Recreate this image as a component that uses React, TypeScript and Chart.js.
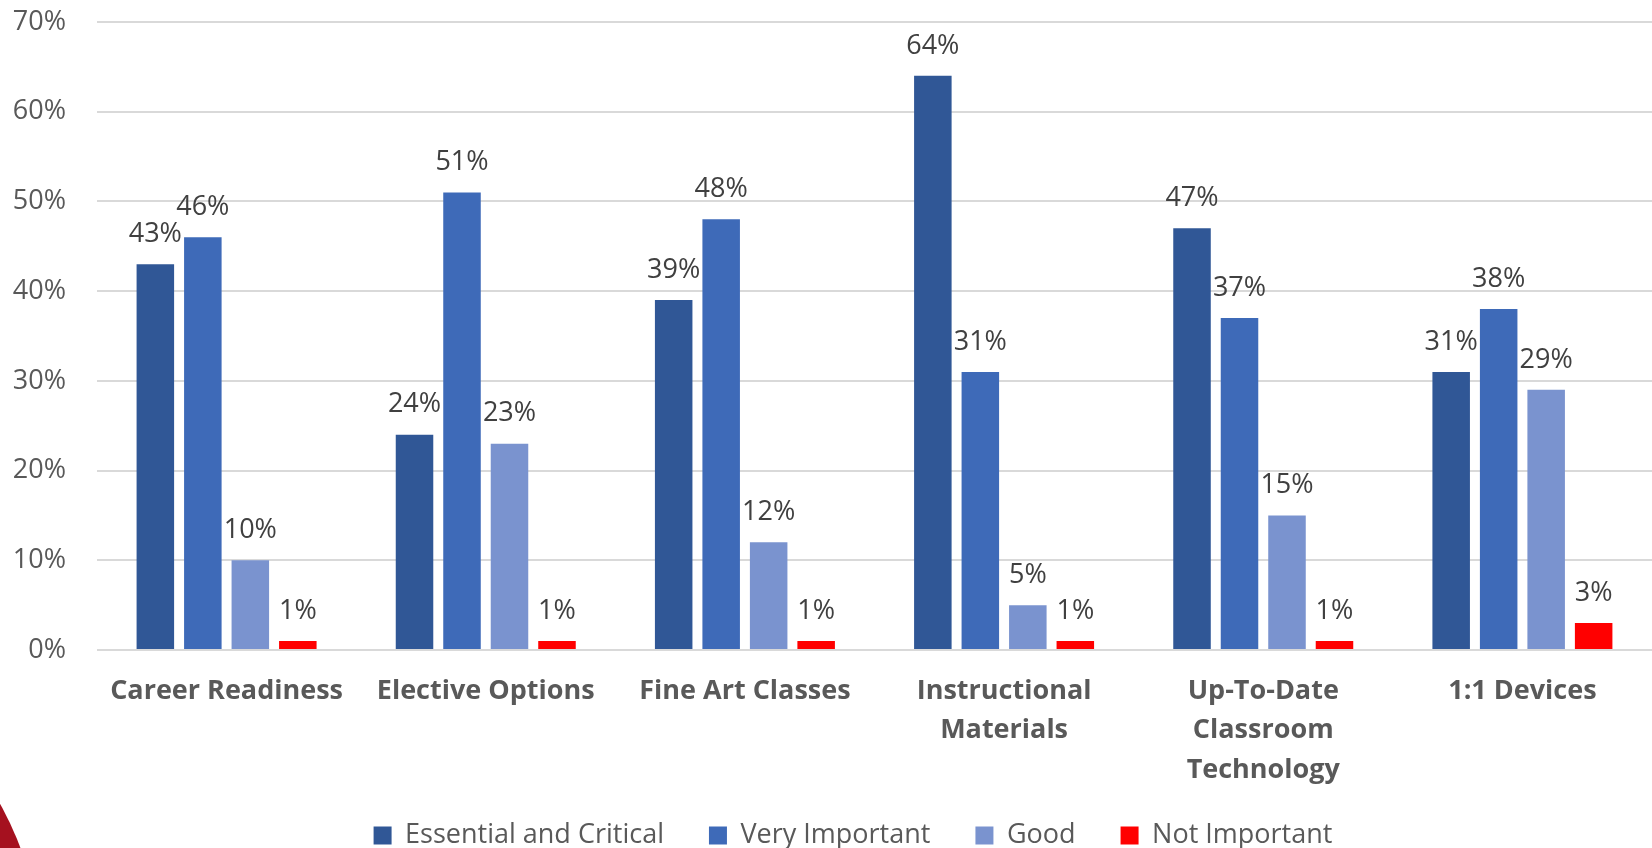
import React, { useEffect, useRef } from "react";
import { Chart, registerables } from "chart.js";

Chart.register(...registerables);

const categories: (string | string[])[] = [
  "Career Readiness",
  "Elective Options",
  "Fine Art Classes",
  ["Instructional", "Materials"],
  ["Up-To-Date", "Classroom", "Technology"],
  "1:1 Devices",
];

const seriesNames = ["Essential and Critical", "Very Important", "Good", "Not Important"];
const essentialCritical = [43, 24, 39, 64, 47, 31];
const veryImportant = [46, 51, 48, 31, 37, 38];
const good = [10, 23, 12, 5, 15, 29];
const notImportant = [1, 1, 1, 1, 1, 3];
const yTicks = [0, 10, 20, 30, 40, 50, 60, 70];

const seriesColors = ["#305796", "#3E6AB8", "#7A93CF", "#FF0000"];

const FONT = "'Open Sans', 'Noto Sans', sans-serif";

// vertical gap between a bar's top and the centre of its value label
const LABEL_GAP = 30;

const valueLabels = {
  id: "valueLabels",
  afterDatasetsDraw(chart: Chart) {
    const ctx = chart.ctx;
    ctx.save();
    ctx.font = `27px ${FONT}`;
    ctx.fillStyle = "#404040";
    ctx.textAlign = "center";
    ctx.textBaseline = "middle";
    chart.data.datasets.forEach((ds, di) => {
      const meta = chart.getDatasetMeta(di);
      meta.data.forEach((el: any, i: number) => {
        const v = ds.data[i] as number;
        ctx.fillText(`${v}%`, el.x, el.y - LABEL_GAP);
      });
    });
    ctx.restore();
  },
};

// places the legend row slightly right of centre, near the bottom edge
const LEGEND_TOP = 777;
const legendShift = {
  id: "legendShift",
  afterLayout(chart: any) {
    const lg = chart.legend;
    if (!lg) return;
    lg.left += 27;
    lg.right += 27;
    lg.top = LEGEND_TOP;
    lg.bottom = chart.height;
  },
};

export default function App() {
  const ref = useRef<HTMLCanvasElement | null>(null);

  useEffect(() => {
    if (!ref.current) return;
    const values = [essentialCritical, veryImportant, good, notImportant];
    const chart = new Chart(ref.current, {
      type: "bar",
      data: {
        labels: categories,
        datasets: seriesNames.map((name, k) => ({
          label: name,
          data: values[k],
          backgroundColor: seriesColors[k],
          borderWidth: 0,
          categoryPercentage: 0.733,
          barPercentage: 0.79,
        })),
      },
      options: {
        animation: false,
        responsive: true,
        maintainAspectRatio: false,
        layout: { padding: { top: 22, right: 0, left: 0, bottom: 0 } },
        plugins: {
          tooltip: { enabled: false },
          legend: {
            position: "bottom",
            maxHeight: 63,
            labels: {
              boxWidth: 18,
              boxHeight: 18,
              padding: 45,
              color: "#595959",
              font: { family: FONT, size: 27 },
            },
          },
        },
        scales: {
          x: {
            grid: { display: false, drawTicks: false },
            border: { display: false },
            afterFit(scale: any) {
              scale.height = 135;
            },
            ticks: {
              color: "#595959",
              font: { family: FONT, size: 27, weight: "bold", lineHeight: 1.45 },
              padding: 22,
              autoSkip: false,
              maxRotation: 0,
              minRotation: 0,
            },
          },
          y: {
            min: 0,
            max: 70,
            afterBuildTicks(scale: any) {
              scale.ticks = yTicks.map((v) => ({ value: v }));
            },
            afterFit(scale: any) {
              scale.width = 97;
              scale.paddingTop = 0;
              scale.paddingBottom = 0;
            },
            grid: { color: "#D9D9D9", lineWidth: 2, drawTicks: false },
            border: { display: false },
            ticks: {
              color: "#595959",
              font: { family: FONT, size: 27 },
              padding: 31,
              callback: (v: any) => `${v}%`,
            },
          },
        },
      },
      plugins: [valueLabels, legendShift],
    });
    return () => chart.destroy();
  }, []);

  return (
    <>
      <div
        style={{
          position: "fixed",
          left: -300 - 343,
          top: 970 - 343,
          width: 686,
          height: 686,
          borderRadius: "50%",
          background: "#A5111F",
        }}
      />
      <div style={{ position: "fixed", left: 0, top: 0, width: 1652, height: 848 }}>
        <canvas ref={ref} />
      </div>
    </>
  );
}
